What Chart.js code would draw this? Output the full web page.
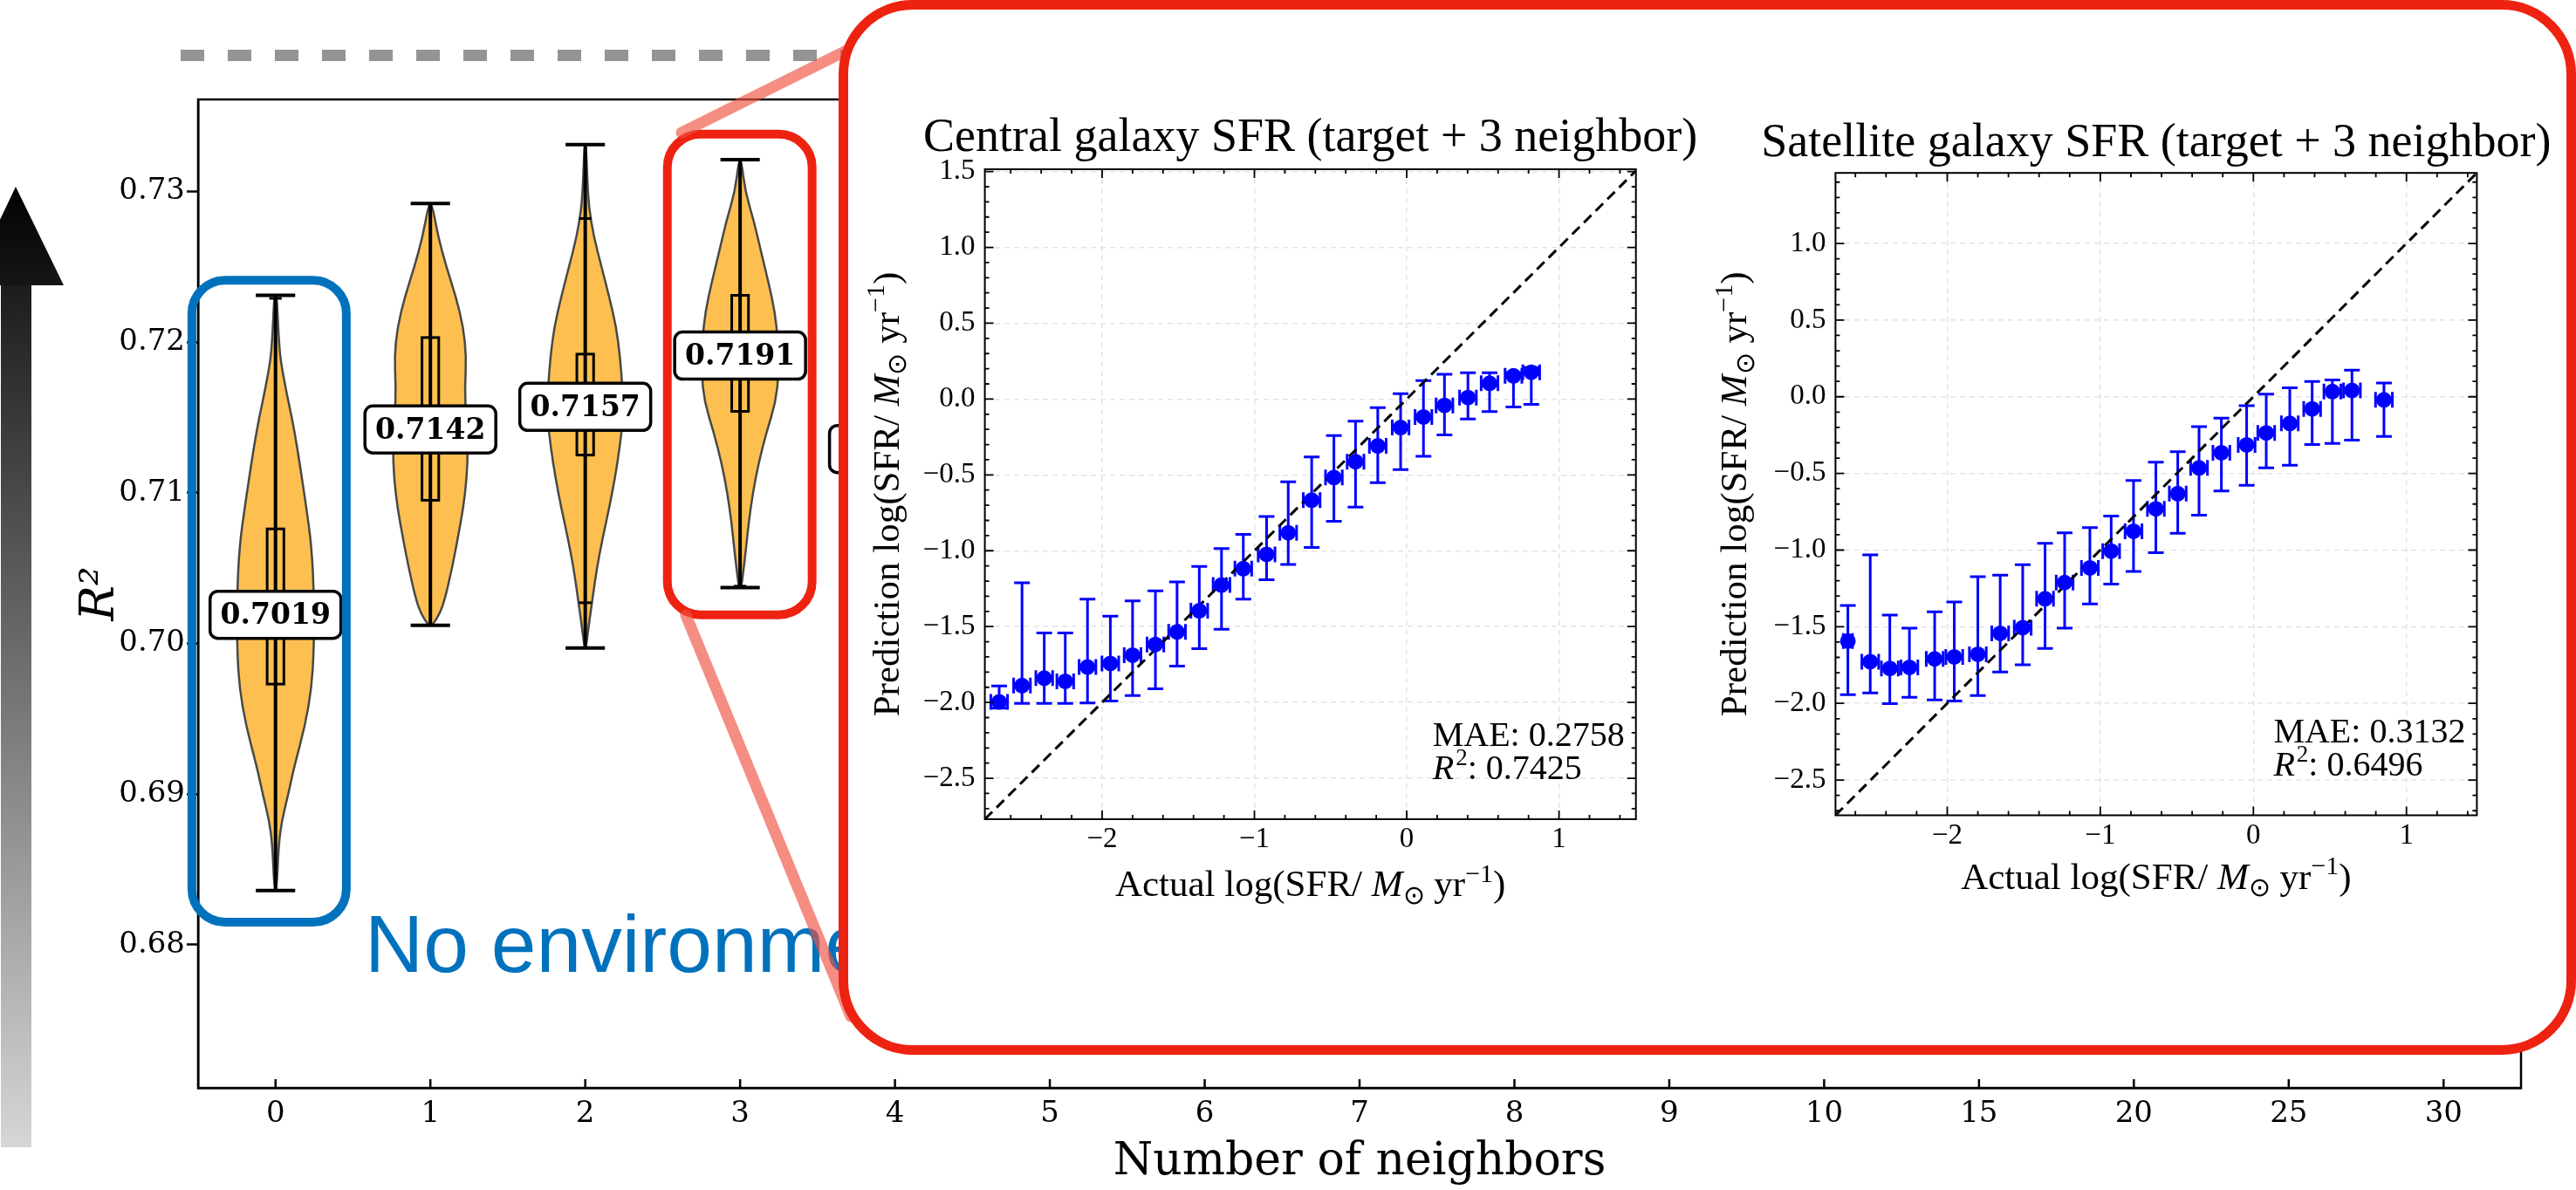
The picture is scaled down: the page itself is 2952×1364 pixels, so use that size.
<!DOCTYPE html>
<html>
<head>
<meta charset="utf-8">
<script src="https://cdn.jsdelivr.net/npm/chart.js@4.4.1/dist/chart.umd.min.js"></script>
<style>
  html, body { margin:0; padding:0; background:#fff; }
  body { width:2952px; height:1364px; position:relative; overflow:hidden; }
  canvas { position:absolute; }
  #mainChart { left:0; top:0; }
  #arrowShaft { position:absolute; left:1px; top:326px; width:35px; height:989px;
    background:linear-gradient(to bottom, #1c1c1c, #d6d6d6); }
  #arrowHead { position:absolute; left:0; top:0; }
  #dashTop { position:absolute; left:207px; top:57px; width:770px; height:13px;
    background:repeating-linear-gradient(90deg, #949494 0 27px, transparent 27px 54px); }
  #noEnv { position:absolute; left:418px; top:1036px; font:93px/1 "Liberation Sans", Arial, sans-serif;
    color:#0072bd; white-space:nowrap; }
  #zoomLines { position:absolute; left:0; top:0; }
  #inset { position:absolute; left:961px; top:0; width:1991px; height:1209px; box-sizing:border-box;
    border:11px solid #ee2211; border-radius:85px; background:#fff; }
  #centralChart { left:980px; top:110px; }
  #satelliteChart { left:1965px; top:110px; }
</style>
</head>
<body>
<canvas id="mainChart" width="2952" height="1364"></canvas>
<div id="arrowShaft"></div>
<svg id="arrowHead" width="80" height="340">
  <defs><linearGradient id="hg" x1="0" y1="0" x2="0" y2="1">
    <stop offset="0" stop-color="#030303"/><stop offset="1" stop-color="#151515"/></linearGradient></defs>
  <polygon points="-36,327 18,214 73,327" fill="url(#hg)"/>
</svg>
<div id="dashTop"></div>
<div id="noEnv">No environment</div>
<svg id="zoomLines" width="2952" height="1364">
  <line x1="781" y1="152" x2="978" y2="54" stroke="rgb(240,80,65)" stroke-opacity="0.65" stroke-width="13" stroke-linecap="round"/>
  <line x1="786" y1="705" x2="975" y2="1165" stroke="rgb(240,80,65)" stroke-opacity="0.65" stroke-width="13" stroke-linecap="round"/>
</svg>
<div id="inset"></div>
<canvas id="centralChart" width="985" height="950"></canvas>
<canvas id="satelliteChart" width="985" height="950"></canvas>

<script>
// ---- main panel: R^2 vs number of neighbors ----
const nbrLabels = ['0','1','2','3','4','5','6','7','8','9','10','15','20','25','30'];
const r2Ticks   = [0.68, 0.69, 0.70, 0.71, 0.72, 0.73];
const meanR2    = [0.7019, 0.7142, 0.7157, 0.7191, 0.7129];
const whiskLo   = [0.6836, 0.7012, 0.6997, 0.7037];
const whiskHi   = [0.7231, 0.7292, 0.7331, 0.7321];
const boxLo     = [0.6973, 0.7095, 0.7125, 0.7154];
const boxHi     = [0.7076, 0.7203, 0.7192, 0.7231];
const qMarks    = [[0.7229], [], [0.7027, 0.7282], [0.7038]];

// violin outlines: [R2, relative half width]
const vio0 = [[0.7231,0.03],[0.7215,0.06],[0.7200,0.09],[0.7188,0.13],[0.7168,0.27],[0.7149,0.43],
  [0.7130,0.56],[0.7110,0.68],[0.7091,0.79],[0.7065,0.93],[0.7030,1.0],[0.6995,0.99],[0.6970,0.93],
  [0.6945,0.76],[0.6918,0.48],[0.6900,0.33],[0.6882,0.16],[0.6866,0.08],[0.6836,0.03]];
const vio1 = [[0.7292,0.04],[0.7270,0.20],[0.7250,0.41],[0.7230,0.66],[0.7210,0.85],[0.7190,0.93],
  [0.7170,0.89],[0.7150,0.92],[0.7130,0.97],[0.7110,0.94],[0.7090,0.85],[0.7070,0.71],[0.7050,0.56],
  [0.7030,0.38],[0.7020,0.25],[0.7012,0.05]];
const vio2 = [[0.7331,0.02],[0.7310,0.05],[0.7290,0.09],[0.7270,0.22],[0.7250,0.42],[0.7230,0.62],
  [0.7210,0.80],[0.7190,0.90],[0.7170,0.96],[0.7150,0.98],[0.7130,0.89],[0.7110,0.77],[0.7090,0.62],
  [0.7070,0.45],[0.7050,0.30],[0.7030,0.19],[0.7010,0.08],[0.6997,0.02]];
const vio3 = [[0.7321,0.03],[0.7300,0.13],[0.7280,0.36],[0.7260,0.54],[0.7240,0.73],[0.7220,0.90],
  [0.7200,0.98],[0.7180,1.0],[0.7160,0.92],[0.7140,0.68],[0.7120,0.48],[0.7100,0.33],[0.7080,0.22],
  [0.7060,0.14],[0.7045,0.07],[0.7037,0.03]];
const violins = [vio0, vio1, vio2, vio3];

// highlight boxes [cat left, cat right, R2 low, R2 high]
const blueBox = [-0.54, 0.457, 0.6815, 0.7241];
const redBox  = [2.53, 3.465, 0.7019, 0.7338];

// ---- inset panels ----
const cenActual = [-2.676,-2.526,-2.380,-2.242,-2.096,-1.946,-1.800,-1.650,-1.508,-1.362,-1.216,-1.073,-0.920,
  -0.778,-0.624,-0.478,-0.336,-0.190,-0.040,0.110,0.248,0.402,0.544,0.701,0.818];
const cenPred = [-1.997,-1.889,-1.840,-1.861,-1.767,-1.743,-1.688,-1.618,-1.535,-1.396,-1.226,-1.118,-1.024,
  -0.882,-0.667,-0.517,-0.413,-0.309,-0.188,-0.118,-0.042,0.010,0.104,0.153,0.177];
const cenHi = [-1.892,-1.212,-1.542,-1.542,-1.319,-1.431,-1.330,-1.264,-1.205,-1.104,-0.986,-0.892,-0.774,
  -0.545,-0.382,-0.240,-0.146,-0.056,0.035,0.122,0.163,0.174,0.174,0.174,0.208];
const cenLo = [-2.038,-2.007,-2.007,-2.007,-2.003,-1.990,-1.955,-1.910,-1.760,-1.646,-1.517,-1.319,-1.191,
  -1.090,-0.979,-0.806,-0.712,-0.552,-0.465,-0.378,-0.236,-0.132,-0.083,-0.052,-0.035];
const cenXerr = [0.055,0.055,0.055,0.055,0.055,0.055,0.055,0.055,0.055,0.055,0.055,0.055,0.055,
  0.055,0.055,0.055,0.055,0.055,0.055,0.055,0.055,0.055,0.055,0.055,0.055];

const satActual = [-2.649,-2.503,-2.375,-2.247,-2.082,-1.954,-1.800,-1.654,-1.507,-1.361,-1.233,-1.068,-0.929,
  -0.783,-0.637,-0.494,-0.355,-0.209,-0.044,0.084,0.238,0.384,0.516,0.644,0.853];
const satPred = [-1.594,-1.728,-1.772,-1.765,-1.710,-1.697,-1.680,-1.543,-1.506,-1.318,-1.212,-1.116,-1.007,
  -0.877,-0.731,-0.632,-0.464,-0.365,-0.314,-0.236,-0.174,-0.079,0.034,0.041,-0.020];
const satHi = [-1.362,-1.031,-1.424,-1.509,-1.403,-1.338,-1.174,-1.164,-1.096,-0.956,-0.888,-0.854,-0.778,
  -0.546,-0.427,-0.358,-0.195,-0.140,-0.058,0.017,0.058,0.099,0.109,0.174,0.089];
const satLo = [-1.943,-1.932,-2.001,-1.960,-1.977,-1.984,-1.949,-1.796,-1.748,-1.642,-1.509,-1.352,-1.222,
  -1.140,-1.017,-0.891,-0.772,-0.615,-0.577,-0.464,-0.447,-0.311,-0.304,-0.283,-0.259];
const satXerr = [0.03,0.055,0.055,0.055,0.055,0.055,0.055,0.055,0.055,0.055,0.055,0.055,0.055,
  0.055,0.055,0.055,0.055,0.055,0.055,0.055,0.055,0.055,0.055,0.055,0.055];

const predTicksCen = [-2.5,-2.0,-1.5,-1.0,-0.5,0.0,0.5,1.0,1.5];
const predTicksSat = [-2.5,-2.0,-1.5,-1.0,-0.5,0.0,0.5,1.0];
const actTicks = [-2,-1,0,1];

Chart.defaults.animation = false;
Chart.defaults.color = '#000';

const SERIF = 'DejaVu Serif';
const CM = 'Liberation Serif';

function smoothClosed(ctx, pts){
  const n = pts.length;
  const mid = (a,b) => [(a[0]+b[0])/2, (a[1]+b[1])/2];
  let m = mid(pts[n-1], pts[0]);
  ctx.beginPath();
  ctx.moveTo(m[0], m[1]);
  for (let k = 0; k < n; k++){
    const p = pts[k], q = pts[(k+1)%n];
    m = mid(p, q);
    ctx.quadraticCurveTo(p[0], p[1], m[0], m[1]);
  }
  ctx.closePath();
}

const violinPlugin = {
  id: 'violins',
  afterDraw(chart){
    const {ctx, chartArea: ca, scales: {x, y}} = chart;
    ctx.save();
    // frame
    ctx.strokeStyle = '#000'; ctx.lineWidth = 2.5;
    ctx.strokeRect(ca.left, ca.top, ca.right - ca.left, ca.bottom - ca.top);
    // inward x ticks
    nbrLabels.forEach((_, i) => {
      const px = x.getPixelForValue(i);
      ctx.beginPath(); ctx.moveTo(px, ca.bottom); ctx.lineTo(px, ca.bottom - 10); ctx.stroke();
    });
    // violin bodies
    violins.forEach((prof, i) => {
      const right = prof.map(([v, w]) => [x.getPixelForValue(i + w*0.25), y.getPixelForValue(v)]);
      const left  = prof.map(([v, w]) => [x.getPixelForValue(i - w*0.25), y.getPixelForValue(v)]).reverse();
      smoothClosed(ctx, right.concat(left));
      ctx.fillStyle = '#fdc050'; ctx.fill();
      ctx.strokeStyle = '#484848'; ctx.lineWidth = 2.5; ctx.stroke();
    });
    // whiskers, caps, boxes
    ctx.strokeStyle = '#000';
    violins.forEach((_, i) => {
      const cx = x.getPixelForValue(i);
      const capL = x.getPixelForValue(i - 0.127), capR = x.getPixelForValue(i + 0.127);
      const lo = y.getPixelForValue(whiskLo[i]), hi = y.getPixelForValue(whiskHi[i]);
      ctx.lineWidth = 4;
      ctx.beginPath();
      ctx.moveTo(cx, lo); ctx.lineTo(cx, hi);
      ctx.moveTo(capL, lo); ctx.lineTo(capR, lo);
      ctx.moveTo(capL, hi); ctx.lineTo(capR, hi);
      ctx.stroke();
      const bl = x.getPixelForValue(i - 0.054), br = x.getPixelForValue(i + 0.054);
      const bt = y.getPixelForValue(boxHi[i]), bb = y.getPixelForValue(boxLo[i]);
      ctx.lineWidth = 3;
      ctx.strokeRect(bl, bt, br - bl, bb - bt);
      const ml = x.getPixelForValue(i - 0.04), mr = x.getPixelForValue(i + 0.04);
      qMarks[i].forEach(v => {
        const py = y.getPixelForValue(v);
        ctx.beginPath(); ctx.moveTo(ml, py); ctx.lineTo(mr, py); ctx.stroke();
      });
    });
    // mean labels
    ctx.font = 'bold 33px "' + SERIF + '"';
    ctx.textAlign = 'center'; ctx.textBaseline = 'middle';
    meanR2.forEach((v, i) => {
      const cx = x.getPixelForValue(i), cy = y.getPixelForValue(v);
      ctx.beginPath(); ctx.roundRect(cx - 75, cy - 27, 150, 54, 9);
      ctx.fillStyle = '#fff'; ctx.fill();
      ctx.lineWidth = 3.5; ctx.strokeStyle = '#000'; ctx.stroke();
      ctx.fillStyle = '#000';
      ctx.fillText(v.toFixed(4), cx, cy + 2);
    });
    // highlight boxes
    const drawBox = (b, color) => {
      const l = x.getPixelForValue(b[0]), r = x.getPixelForValue(b[1]);
      const t = y.getPixelForValue(b[3]), btm = y.getPixelForValue(b[2]);
      ctx.beginPath(); ctx.roundRect(l, t, r - l, btm - t, 38);
      ctx.strokeStyle = color; ctx.lineWidth = 10; ctx.stroke();
    };
    drawBox(blueBox, '#0072bd');
    drawBox(redBox, '#ee2211');
    ctx.restore();
  }
};

new Chart(document.getElementById('mainChart'), {
  type: 'bar',
  data: { labels: nbrLabels, datasets: [] },
  options: {
    responsive: false,
    layout: { padding: { left: 0, top: 114, right: 63, bottom: 0 } },
    plugins: { legend: { display: false }, tooltip: { enabled: false } },
    scales: {
      x: {
        type: 'category', offset: true,
        grid: { display: false, drawTicks: false },
        border: { display: true, color: '#000', width: 2.5 },
        ticks: { color: '#000', padding: 10, maxRotation: 0, autoSkip: false, font: { family: SERIF, size: 34 } },
        title: { display: true, text: 'Number of neighbors', color: '#000', font: { family: SERIF, size: 52 }, padding: { top: 0, bottom: 0 } },
        afterFit: s => { s.height = 117; }
      },
      y: {
        min: 0.6705, max: 0.7361,
        afterBuildTicks: s => { s.ticks = r2Ticks.map(v => ({ value: v })); },
        grid: { drawOnChartArea: false, drawTicks: true, tickLength: 13, tickWidth: 2.5, tickColor: '#000' },
        border: { display: true, color: '#000', width: 2.5 },
        ticks: { color: '#000', padding: 2, font: { family: SERIF, size: 34 }, callback: v => v.toFixed(2) },
        title: { display: true, text: 'R²', color: '#000', font: { family: SERIF, size: 54, style: 'italic' }, padding: { top: 84, bottom: 0 } },
        afterFit: s => { s.width = 227; }
      }
    }
  },
  plugins: [violinPlugin]
});

// ---- inset helpers ----
const errorBars = {
  id: 'errorBars',
  beforeDatasetsDraw(chart){
    const {ctx, scales: {x, y}} = chart;
    chart.data.datasets.forEach(ds => {
      if (!ds.yLo) return;
      ctx.save();
      ctx.strokeStyle = ds.backgroundColor; ctx.lineWidth = 3;
      const c = 9;
      ds.data.forEach((p, k) => {
        const px = x.getPixelForValue(p.x), py = y.getPixelForValue(p.y);
        const top = y.getPixelForValue(ds.yHi[k]), bot = y.getPixelForValue(ds.yLo[k]);
        const l = x.getPixelForValue(p.x - ds.xErr[k]), r = x.getPixelForValue(p.x + ds.xErr[k]);
        ctx.beginPath();
        ctx.moveTo(px, top); ctx.lineTo(px, bot);
        ctx.moveTo(px - c, top); ctx.lineTo(px + c, top);
        ctx.moveTo(px - c, bot); ctx.lineTo(px + c, bot);
        ctx.moveTo(l, py); ctx.lineTo(r, py);
        ctx.moveTo(l, py - c); ctx.lineTo(l, py + c);
        ctx.moveTo(r, py - c); ctx.lineTo(r, py + c);
        ctx.stroke();
      });
      ctx.restore();
    });
  }
};

// text with italic / sub / superscript runs, centred on (x, y) baseline
function richText(ctx, parts, x, y, size, rotate){
  const small = Math.round(size * 0.7);
  const fonts = { n: size + 'px "' + CM + '"', i: 'italic ' + size + 'px "' + CM + '"',
                  sub: small + 'px "' + CM + '"', sup: small + 'px "' + CM + '"' };
  const shift = { n: 0, i: 0, sub: size * 0.2, sup: -size * 0.38 };
  let total = 0;
  parts.forEach(p => { ctx.font = fonts[p[1]]; total += ctx.measureText(p[0]).width; });
  ctx.save();
  ctx.translate(x, y);
  if (rotate) ctx.rotate(-Math.PI / 2);
  ctx.textAlign = 'left'; ctx.textBaseline = 'alphabetic'; ctx.fillStyle = '#000';
  let cx = -total / 2;
  parts.forEach(p => {
    ctx.font = fonts[p[1]];
    ctx.fillText(p[0], cx, shift[p[1]]);
    cx += ctx.measureText(p[0]).width;
  });
  ctx.restore();
}
const unitParts = [['SFR/ ', 'n'], ['M', 'i'], ['\u2299', 'sub'], [' yr', 'n'], ['\u22121', 'sup'], [')', 'n']];
const xTitleParts = [['Actual log(', 'n']].concat(unitParts);
const yTitleParts = [['Prediction log(', 'n']].concat(unitParts);

const insetDecor = {
  id: 'insetDecor',
  afterDraw(chart, args, opts){
    const {ctx, chartArea: ca, scales: {x, y}} = chart;
    ctx.save();
    ctx.strokeStyle = '#000'; ctx.lineWidth = 2;
    ctx.strokeRect(ca.left, ca.top, ca.right - ca.left, ca.bottom - ca.top);
    ctx.lineWidth = 1.8;
    ctx.beginPath();
    for (let k = Math.ceil(x.min * 5); k <= Math.floor(x.max * 5); k++){
      const px = x.getPixelForValue(k / 5), len = k % 5 === 0 ? 10 : 5;
      ctx.moveTo(px, ca.bottom); ctx.lineTo(px, ca.bottom - len);
      ctx.moveTo(px, ca.top); ctx.lineTo(px, ca.top + len);
    }
    for (let k = Math.ceil(y.min * 10); k <= Math.floor(y.max * 10); k++){
      const py = y.getPixelForValue(k / 10), len = k % 5 === 0 ? 10 : 5;
      ctx.moveTo(ca.left, py); ctx.lineTo(ca.left + len, py);
      ctx.moveTo(ca.right, py); ctx.lineTo(ca.right - len, py);
    }
    ctx.stroke();
    // title
    ctx.fillStyle = '#000';
    ctx.font = '54px "' + CM + '"';
    ctx.textAlign = 'center'; ctx.textBaseline = 'alphabetic';
    ctx.fillText(opts.title, (ca.left + ca.right) / 2, ca.top - opts.titleGap);
    // axis titles
    richText(ctx, xTitleParts, (ca.left + ca.right) / 2, ca.bottom + opts.xTitleGap, 43, false);
    richText(ctx, yTitleParts, ca.left - opts.yTitleGap, (ca.top + ca.bottom) / 2, 43, true);
    // scores
    ctx.textAlign = 'left';
    ctx.font = '40px "' + CM + '"';
    const line1 = 'MAE: ' + opts.mae;
    const left = ca.right - 13 - ctx.measureText(line1).width;
    ctx.fillText(line1, left, ca.bottom - 84);
    ctx.font = 'italic 40px "' + CM + '"';
    ctx.fillText('R', left, ca.bottom - 46);
    let w = ctx.measureText('R').width + 2;
    ctx.font = '27px "' + CM + '"';
    ctx.fillText('2', left + w, ca.bottom - 62);
    w += ctx.measureText('2').width;
    ctx.font = '40px "' + CM + '"';
    ctx.fillText(': ' + opts.r2, left + w, ca.bottom - 46);
    ctx.restore();
  }
};

const fmtSigned = d => v => (v < 0 ? '\u2212' : '') + Math.abs(v).toFixed(d);

function makeInset(id, cfg){
  return new Chart(document.getElementById(id), {
    type: 'scatter',
    data: {
      datasets: [
        { data: cfg.actual.map((v, k) => ({ x: v, y: cfg.pred[k] })),
          backgroundColor: '#0000ff', borderWidth: 0, pointRadius: 9, pointHoverRadius: 9,
          yLo: cfg.lo, yHi: cfg.hi, xErr: cfg.xerr },
        { type: 'line', data: [{ x: cfg.xlim[0], y: cfg.xlim[0] }, { x: cfg.ylim[1], y: cfg.ylim[1] }],
          borderColor: '#000', borderWidth: 3, borderDash: [12, 7], pointRadius: 0, fill: false }
      ]
    },
    options: {
      responsive: false,
      layout: { padding: { left: 0, top: cfg.padTop, right: cfg.padRight, bottom: 0 } },
      plugins: {
        legend: { display: false }, tooltip: { enabled: false },
        insetDecor: { title: cfg.title, mae: cfg.mae, r2: cfg.r2, titleGap: cfg.titleGap,
                      xTitleGap: cfg.xTitleGap, yTitleGap: cfg.yTitleGap }
      },
      scales: {
        x: {
          type: 'linear', min: cfg.xlim[0], max: cfg.xlim[1],
          afterBuildTicks: s => { s.ticks = actTicks.map(v => ({ value: v })); },
          grid: { color: '#e3e3e3', lineWidth: 1.5, drawTicks: false },
          border: { display: false, dash: [6, 5] },
          ticks: { padding: 4, font: { family: CM, size: 33 }, callback: fmtSigned(0) },
          afterFit: s => { s.height = cfg.xH; }
        },
        y: {
          type: 'linear', min: cfg.ylim[0], max: cfg.ylim[1],
          afterBuildTicks: s => { s.ticks = cfg.yTicks.map(v => ({ value: v })); },
          grid: { color: '#e3e3e3', lineWidth: 1.5, drawTicks: false },
          border: { display: false, dash: [6, 5] },
          ticks: { padding: 11, font: { family: CM, size: 33 }, callback: fmtSigned(1) },
          afterFit: s => { s.width = cfg.yW; }
        }
      }
    },
    plugins: [errorBars, insetDecor]
  });
}

makeInset('centralChart', {
  actual: cenActual, pred: cenPred, lo: cenLo, hi: cenHi, xerr: cenXerr,
  xlim: [-2.77, 1.505], ylim: [-2.77, 1.515], yTicks: predTicksCen,
  title: 'Central galaxy SFR (target + 3 neighbor)', mae: '0.2758', r2: '0.7425',
  padTop: 84, padRight: 90.3, yW: 148.6, xH: 121, titleGap: 21, xTitleGap: 88, yTitleGap: 99
});

makeInset('satelliteChart', {
  actual: satActual, pred: satPred, lo: satLo, hi: satHi, xerr: satXerr,
  xlim: [-2.73, 1.46], ylim: [-2.73, 1.46], yTicks: predTicksSat,
  title: 'Satellite galaxy SFR (target + 3 neighbor)', mae: '0.3132', r2: '0.6496',
  padTop: 88.2, padRight: 111.6, yW: 138.4, xH: 125.5, titleGap: 19, xTitleGap: 84, yTitleGap: 102
});
</script>
</body>
</html>
